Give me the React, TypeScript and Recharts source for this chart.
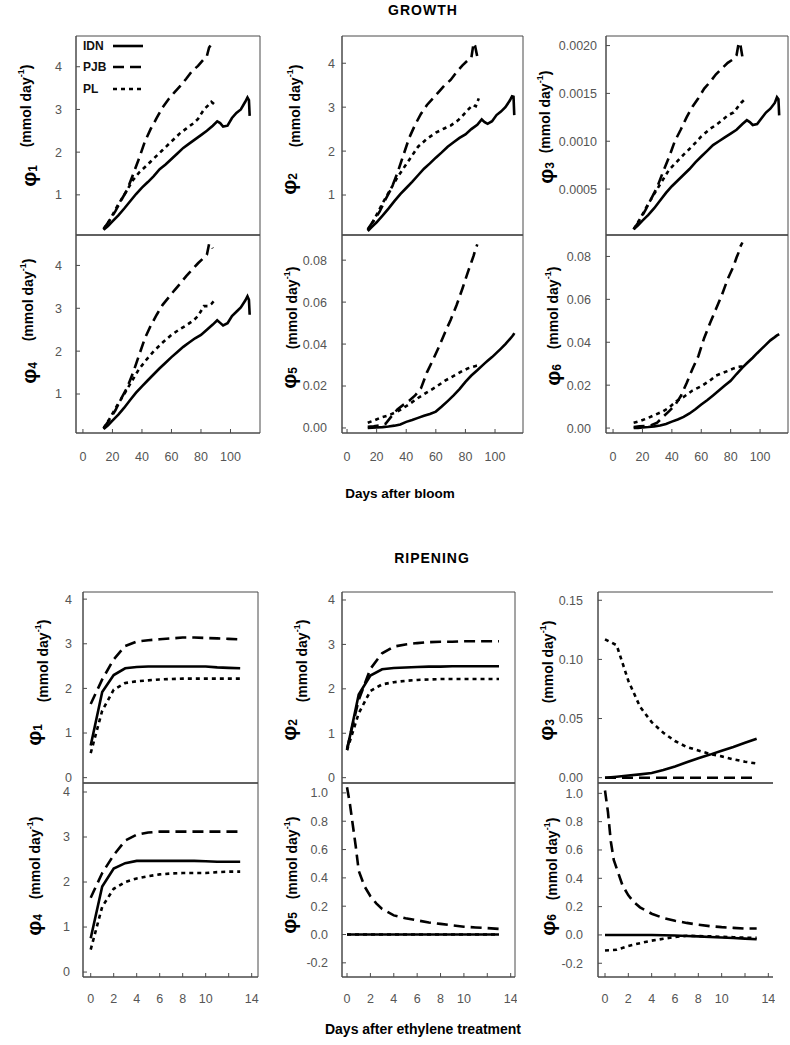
import { CartesianGrid, Legend, Line, LineChart, XAxis, YAxis } from "recharts";

const FONT = '"Liberation Sans", Arial, Helvetica, sans-serif';
const GREY = "#4a4a4a";
const TICK_GREY = "#555";

const SERIES_NAMES = ["IDN", "PJB", "PL"];

// ---- growth: days after bloom ----
const GROWTH_IDN_DAYS = [14, 17, 20, 24, 28, 32, 36, 40, 44, 48, 52, 56, 60, 64, 68, 72, 76, 80, 84, 88, 91, 93, 95, 98, 101, 104, 107, 110, 111.5, 112.5, 113];
const GROWTH_PJB_DAYS = [14, 18, 22, 26, 30, 34, 38, 42, 46, 50, 54, 58, 62, 66, 70, 74, 78, 82, 84, 85.5, 86.5, 88];
const GROWTH_PL_DAYS = [14, 18, 23, 28, 34, 38, 43, 48, 54, 60, 66, 70, 75, 78, 82, 85, 87, 89];
const GROWTH_X_TICKS = [0, 20, 40, 60, 80, 100];

const G1_IDN = [0.18, 0.27, 0.38, 0.52, 0.68, 0.85, 1.02, 1.17, 1.3, 1.44, 1.6, 1.71, 1.84, 1.97, 2.1, 2.2, 2.3, 2.4, 2.5, 2.62, 2.72, 2.68, 2.6, 2.62, 2.8, 2.92, 3.0, 3.18, 3.28, 3.22, 2.85];
const G1_PJB = [0.2, 0.4, 0.62, 0.88, 1.12, 1.48, 1.85, 2.25, 2.55, 2.8, 3.05, 3.24, 3.4, 3.55, 3.72, 3.9, 4.02, 4.18, 4.25, 4.45, 4.5, 4.38];
const G1_PL = [0.2, 0.4, 0.72, 1.0, 1.35, 1.52, 1.68, 1.85, 2.05, 2.25, 2.45, 2.55, 2.68, 2.78, 3.0, 3.1, 3.18, 3.12];

const G2_IDN = [0.18, 0.28, 0.38, 0.53, 0.69, 0.86, 1.02, 1.16, 1.3, 1.45, 1.6, 1.72, 1.85, 1.97, 2.1, 2.2, 2.3, 2.38, 2.5, 2.6, 2.72, 2.66, 2.62, 2.68, 2.82, 2.9, 3.0, 3.15, 3.25, 3.24, 2.82];
const G2_PJB = [0.22, 0.42, 0.62, 0.9, 1.15, 1.5, 1.9, 2.3, 2.6, 2.85, 3.05, 3.2, 3.35, 3.5, 3.62, 3.8, 3.95, 4.08, 4.12, 4.46, 4.4, 4.15];
const G2_PL = [0.2, 0.42, 0.75, 1.05, 1.4, 1.6, 1.85, 2.1, 2.28, 2.42, 2.52, 2.58, 2.7, 2.8, 2.95, 3.05, 3.02, 3.2];

const G3_IDN = [0.00008, 0.00012, 0.00017, 0.00023, 0.0003, 0.00038, 0.00046, 0.00053, 0.00059, 0.00065, 0.00071, 0.00078, 0.00084, 0.0009, 0.00096, 0.001, 0.00104, 0.00108, 0.00112, 0.00118, 0.00122, 0.0012, 0.00117, 0.00118, 0.00124, 0.0013, 0.00134, 0.0014, 0.00146, 0.00144, 0.00127];
const G3_PJB = [0.00008, 0.00017, 0.00028, 0.0004, 0.00052, 0.00068, 0.00083, 0.001, 0.00112, 0.00125, 0.00136, 0.00145, 0.00155, 0.00162, 0.0017, 0.00176, 0.00182, 0.00186, 0.0019, 0.00203, 0.00202, 0.00188];
const G3_PL = [0.00008, 0.00018, 0.00032, 0.00045, 0.0006, 0.0007, 0.00078, 0.00086, 0.00095, 0.00105, 0.00113, 0.00117, 0.00123, 0.00127, 0.0013, 0.00136, 0.0014, 0.00143];

const G4_IDN = [0.18, 0.27, 0.38, 0.52, 0.68, 0.86, 1.03, 1.18, 1.32, 1.46, 1.6, 1.73, 1.86, 1.98, 2.1, 2.2, 2.3, 2.38, 2.5, 2.62, 2.72, 2.66, 2.6, 2.65, 2.82, 2.92, 3.02, 3.18, 3.28, 3.2, 2.85];
const G4_PJB = [0.2, 0.4, 0.62, 0.9, 1.15, 1.5, 1.9, 2.3, 2.6, 2.85, 3.08, 3.25, 3.42, 3.58, 3.75, 3.9, 4.05, 4.18, 4.25, 4.5, 4.5, 4.4];
const G4_PL = [0.2, 0.42, 0.72, 1.0, 1.35, 1.58, 1.8, 2.0, 2.2, 2.38, 2.52, 2.6, 2.72, 2.82, 3.05, 3.05, 3.1, 3.18];

const G5_IDN = [0.0, 0.0001, 0.0002, 0.0004, 0.0007, 0.0011, 0.0017, 0.0029, 0.0038, 0.0048, 0.0058, 0.0067, 0.0078, 0.0102, 0.0128, 0.0155, 0.0185, 0.022, 0.025, 0.0275, 0.0295, 0.0308, 0.032, 0.0338, 0.0358, 0.0378, 0.04, 0.0424, 0.0436, 0.0445, 0.0452];
const G5_PJB = [0.0005, 0.0008, 0.0012, 0.002, 0.0055, 0.0088, 0.011, 0.013, 0.0155, 0.019, 0.0265, 0.0324, 0.0385, 0.0452, 0.0515, 0.0585, 0.0665, 0.075, 0.079, 0.082, 0.0845, 0.0875];
const G5_PL = [0.0025, 0.0035, 0.005, 0.006, 0.0078, 0.0095, 0.0118, 0.0143, 0.017, 0.0195, 0.0225, 0.024, 0.026, 0.0272, 0.0285, 0.0292, 0.0296, 0.03];

const G6_IDN = [0, 0.0001, 0.0003, 0.0005, 0.0008, 0.0012, 0.0019, 0.003, 0.004, 0.0052, 0.0068, 0.0088, 0.011, 0.013, 0.0152, 0.0175, 0.0198, 0.022, 0.0252, 0.0282, 0.0302, 0.0315, 0.0328, 0.0349, 0.0369, 0.0389, 0.0409, 0.0424, 0.0432, 0.0436, 0.0438];
const G6_PJB = [0.0005, 0.0008, 0.001, 0.0013, 0.0025, 0.0052, 0.0078, 0.0105, 0.0148, 0.0209, 0.0275, 0.0335, 0.042, 0.049, 0.0555, 0.062, 0.0695, 0.0755, 0.0795, 0.082, 0.0845, 0.0865];
const G6_PL = [0.0025, 0.0032, 0.0045, 0.006, 0.0078, 0.0095, 0.0125, 0.0145, 0.0175, 0.0195, 0.0222, 0.0245, 0.0258, 0.0266, 0.0278, 0.0285, 0.0287, 0.0287];

// ---- ripening: days after ethylene treatment ----
const RIPE_DAYS = [0, 1, 2, 3, 4, 5, 6, 7, 8, 9, 10, 11, 12, 13];
const RIPE_DAYS_FINE = [0, 0.25, 0.5, 0.75, 1, 1.5, 2, 2.5, 3, 4, 5, 6, 7, 8, 9, 10, 11, 12, 13];
const RIPE_X_TICKS = [0, 2, 4, 6, 8, 10, 12, 14];

const R1_IDN = [0.72, 1.92, 2.3, 2.45, 2.48, 2.49, 2.49, 2.49, 2.49, 2.49, 2.49, 2.47, 2.46, 2.45];
const R1_PJB = [1.65, 2.2, 2.65, 2.95, 3.05, 3.08, 3.1, 3.12, 3.14, 3.14, 3.13, 3.12, 3.11, 3.1];
const R1_PL = [0.55, 1.5, 1.97, 2.12, 2.16, 2.18, 2.2, 2.21, 2.22, 2.22, 2.22, 2.22, 2.22, 2.22];

const R2_IDN = [0.62, 1.87, 2.3, 2.44, 2.47, 2.48, 2.49, 2.5, 2.5, 2.51, 2.51, 2.51, 2.51, 2.51];
const R2_PJB = [0.65, 1.75, 2.45, 2.8, 2.95, 3.0, 3.03, 3.05, 3.06, 3.06, 3.07, 3.07, 3.07, 3.07];
const R2_PL = [0.62, 1.45, 1.95, 2.1, 2.15, 2.18, 2.2, 2.21, 2.22, 2.22, 2.22, 2.22, 2.22, 2.22];

const R3_IDN = [0, 0.0008, 0.0018, 0.0028, 0.004, 0.0065, 0.0095, 0.013, 0.0165, 0.0195, 0.0228, 0.026, 0.0295, 0.033];
const R3_PJB = [0, 0, 0, 0, 0, 0, 0, 0, 0, 0, 0, 0, 0, 0];
const R3_PL = [0.117, 0.112, 0.082, 0.06, 0.047, 0.038, 0.031, 0.026, 0.023, 0.02, 0.018, 0.0155, 0.0135, 0.012];

const R4_IDN = [0.75, 1.9, 2.3, 2.42, 2.47, 2.47, 2.47, 2.47, 2.47, 2.47, 2.46, 2.45, 2.45, 2.45];
const R4_PJB = [1.65, 2.2, 2.6, 2.92, 3.05, 3.1, 3.12, 3.12, 3.12, 3.12, 3.12, 3.12, 3.12, 3.12];
const R4_PL = [0.5, 1.45, 1.85, 2.0, 2.08, 2.13, 2.17, 2.19, 2.2, 2.2, 2.2, 2.22, 2.23, 2.23];

const R5_IDN = [0, 0, 0, 0, 0, 0, 0, 0, 0, 0, 0, 0, 0, 0];
const R5_PJB = [1.04, 0.92, 0.77, 0.62, 0.45, 0.34, 0.27, 0.22, 0.18, 0.135, 0.115, 0.1, 0.085, 0.075, 0.065, 0.055, 0.05, 0.045, 0.04];
const R5_PL = [0, 0, 0, 0, 0, 0, 0, 0, 0, 0, 0, 0, 0, 0];

const R6_IDN = [0, 0, 0, 0, 0, -0.002, -0.004, -0.007, -0.01, -0.014, -0.018, -0.022, -0.026, -0.03];
const R6_PJB = [1.02, 0.87, 0.66, 0.53, 0.47, 0.35, 0.28, 0.23, 0.195, 0.15, 0.12, 0.1, 0.085, 0.072, 0.062, 0.055, 0.05, 0.045, 0.045];
const R6_PL = [-0.11, -0.105, -0.078, -0.058, -0.04, -0.027, -0.015, -0.006, -0.008, -0.01, -0.013, -0.016, -0.019, -0.021];

const DASH: Record<string, string | undefined> = { IDN: undefined, PJB: "11 6", PL: "4 4" };

const Y_AXIS_W = 60;
const TOP_PAD = 2;
const RIGHT_PAD = 2;
const X_AXIS_H = 36;

type Series = { name: string; days: number[]; values: number[] };

type Panel = {
  sub: string;
  frame: [number, number, number, number];
  xDomain: [number, number];
  xTicks: number[];
  xLabels: boolean;
  xLabelGap: number;
  hideTick?: number;
  yDomain: [number, number];
  yTicks: number[];
  yDecimals: number;
  yGap: number;
  series: Series[];
  phiAt: [number, number];
  unitAt: [number, number];
  rightEdge?: boolean;
  legend?: boolean;
};

const trio = (days: number[][], vals: number[][]): Series[] =>
  SERIES_NAMES.map((name, i) => ({ name, days: days[i], values: vals[i] }));

const GD = [GROWTH_IDN_DAYS, GROWTH_PJB_DAYS, GROWTH_PL_DAYS];
const RD = [RIPE_DAYS, RIPE_DAYS, RIPE_DAYS];
const RD_FINE = [RIPE_DAYS, RIPE_DAYS_FINE, RIPE_DAYS];

const GROWTH_DEC2 = [0, 0.02, 0.04, 0.06, 0.08];
const ONE_TO_FOUR = [1, 2, 3, 4];
const ZERO_TO_FOUR = [0, 1, 2, 3, 4];
const SMALL_RANGE = [-0.2, 0, 0.2, 0.4, 0.6, 0.8, 1.0];

const PANELS: Panel[] = [
  {
    sub: "1", frame: [76, 36, 184, 199], xDomain: [-4.7, 120], xTicks: GROWTH_X_TICKS, xLabels: false, xLabelGap: 20,
    yDomain: [0.06, 4.72], yTicks: ONE_TO_FOUR, yDecimals: 0, yGap: 14,
    series: trio(GD, [G1_IDN, G1_PJB, G1_PL]), phiAt: [28, 176], unitAt: [26, 106], legend: true,
  },
  {
    sub: "2", frame: [342, 36, 181, 199], xDomain: [-3.4, 118.9], xTicks: GROWTH_X_TICKS, xLabels: false, xLabelGap: 20,
    yDomain: [0.09, 4.62], yTicks: ONE_TO_FOUR, yDecimals: 0, yGap: 7,
    series: trio(GD, [G2_IDN, G2_PJB, G2_PL]), phiAt: [288, 184], unitAt: [295, 106],
  },
  {
    sub: "3", frame: [606, 36, 182, 199], xDomain: [-4.8, 119], xTicks: GROWTH_X_TICKS, xLabels: false, xLabelGap: 20,
    yDomain: [0.00002, 0.0021], yTicks: [0.0005, 0.001, 0.0015, 0.002], yDecimals: 4, yGap: 9,
    series: trio(GD, [G3_IDN, G3_PJB, G3_PL]), phiAt: [545, 173], unitAt: [545, 112],
  },
  {
    sub: "4", frame: [76, 235, 184, 198], xDomain: [-4.7, 120], xTicks: GROWTH_X_TICKS, xLabels: true, xLabelGap: 19.6,
    yDomain: [0.09, 4.71], yTicks: ONE_TO_FOUR, yDecimals: 0, yGap: 14,
    series: trio(GD, [G4_IDN, G4_PJB, G4_PL]), phiAt: [28, 373], unitAt: [28, 300],
  },
  {
    sub: "5", frame: [342, 235, 181, 198], xDomain: [-3.4, 118.9], xTicks: GROWTH_X_TICKS, xLabels: true, xLabelGap: 19.6,
    yDomain: [-0.0024, 0.092], yTicks: GROWTH_DEC2, yDecimals: 2, yGap: 15,
    series: trio(GD, [G5_IDN, G5_PJB, G5_PL]), phiAt: [288, 378], unitAt: [292, 308],
  },
  {
    sub: "6", frame: [606, 235, 182, 198], xDomain: [-4.8, 119], xTicks: GROWTH_X_TICKS, xLabels: true, xLabelGap: 19.6,
    yDomain: [-0.0023, 0.09], yTicks: GROWTH_DEC2, yDecimals: 2, yGap: 15,
    series: trio(GD, [G6_IDN, G6_PJB, G6_PL]), phiAt: [552, 375], unitAt: [553, 308],
  },
  {
    sub: "1", frame: [83, 592, 175, 191], xDomain: [-0.67, 14.55], xTicks: RIPE_X_TICKS, xLabels: false, xLabelGap: 18, hideTick: 12,
    yDomain: [-0.12, 4.16], yTicks: ZERO_TO_FOUR, yDecimals: 0, yGap: 11,
    series: trio(RD, [R1_IDN, R1_PJB, R1_PL]), phiAt: [33, 735], unitAt: [43, 661],
  },
  {
    sub: "2", frame: [342, 592, 173, 191], xDomain: [-0.43, 14.37], xTicks: RIPE_X_TICKS, xLabels: false, xLabelGap: 18, hideTick: 12,
    yDomain: [-0.12, 4.18], yTicks: ZERO_TO_FOUR, yDecimals: 0, yGap: 7,
    series: trio(RD, [R2_IDN, R2_PJB, R2_PL]), phiAt: [288, 730], unitAt: [302, 661],
  },
  {
    sub: "3", frame: [598, 592, 175, 191], xDomain: [-0.6, 14.4], xTicks: RIPE_X_TICKS, xLabels: false, xLabelGap: 18, hideTick: 12,
    yDomain: [-0.0045, 0.157], yTicks: [0, 0.05, 0.1, 0.15], yDecimals: 2, yGap: 15,
    series: trio(RD, [R3_IDN, R3_PJB, R3_PL]), phiAt: [545, 730], unitAt: [548, 662], rightEdge: false,
  },
  {
    sub: "4", frame: [83, 783, 175, 194], xDomain: [-0.67, 14.55], xTicks: RIPE_X_TICKS, xLabels: true, xLabelGap: 17.6, hideTick: 12,
    yDomain: [-0.11, 4.2], yTicks: ZERO_TO_FOUR, yDecimals: 0, yGap: 13,
    series: trio(RD, [R4_IDN, R4_PJB, R4_PL]), phiAt: [33, 925], unitAt: [35, 858],
  },
  {
    sub: "5", frame: [342, 783, 173, 194], xDomain: [-0.43, 14.37], xTicks: RIPE_X_TICKS, xLabels: true, xLabelGap: 17.6, hideTick: 12,
    yDomain: [-0.3, 1.07], yTicks: SMALL_RANGE, yDecimals: 1, yGap: 14,
    series: trio(RD_FINE, [R5_IDN, R5_PJB, R5_PL]), phiAt: [288, 923], unitAt: [292, 858],
  },
  {
    sub: "6", frame: [598, 783, 175, 194], xDomain: [-0.6, 14.4], xTicks: RIPE_X_TICKS, xLabels: true, xLabelGap: 17.6, hideTick: 12,
    yDomain: [-0.297, 1.073], yTicks: SMALL_RANGE, yDecimals: 1, yGap: 15,
    series: trio(RD_FINE, [R6_IDN, R6_PJB, R6_PL]), phiAt: [547, 925], unitAt: [552, 859], rightEdge: false,
  },
];

const tickText = { fill: TICK_GREY, fontSize: 12.5, fontFamily: FONT };

function SeriesKey() {
  return (
    <div style={{ fontFamily: FONT, fontSize: 12, fontWeight: 700, color: "#111" }}>
      {SERIES_NAMES.map((name) => (
        <div key={name} style={{ display: "flex", alignItems: "center", height: 21.5 }}>
          <span style={{ width: 30 }}>{name}</span>
          <svg width={32} height={6}>
            <line x1={0} y1={3} x2={30} y2={3} stroke="#000" strokeWidth={2.6} strokeDasharray={DASH[name]} />
          </svg>
        </div>
      ))}
    </div>
  );
}

function PanelChart({ p }: { p: Panel }) {
  const [fx, fy, fw, fh] = p.frame;
  return (
    <div style={{ position: "absolute", left: fx - Y_AXIS_W, top: fy - TOP_PAD }}>
      <LineChart
        width={Y_AXIS_W + fw + RIGHT_PAD}
        height={TOP_PAD + fh + X_AXIS_H}
        margin={{ top: TOP_PAD, right: RIGHT_PAD, bottom: 0, left: 0 }}
      >
        <CartesianGrid
          stroke={GREY}
          horizontalCoordinatesGenerator={({ offset }: any) => [offset.top, offset.top + offset.height]}
          verticalCoordinatesGenerator={({ offset }: any) =>
            p.rightEdge === false ? [offset.left] : [offset.left, offset.left + offset.width]
          }
        />
        <XAxis
          type="number"
          dataKey="x"
          domain={p.xDomain}
          ticks={p.xTicks}
          interval={0}
          allowDataOverflow
          height={X_AXIS_H}
          stroke={GREY}
          tickSize={-4}
          tickMargin={p.xLabelGap + 4}
          tick={p.xLabels ? tickText : false}
          tickFormatter={(v: number) => (v === p.hideTick ? "" : String(v))}
        />
        <YAxis
          type="number"
          domain={p.yDomain}
          ticks={p.yTicks}
          interval={0}
          allowDataOverflow
          width={Y_AXIS_W}
          stroke={GREY}
          tickSize={-4}
          tickMargin={p.yGap + 4}
          tick={tickText}
          tickFormatter={(v: number) => v.toFixed(p.yDecimals)}
        />
        {p.legend && (
          <Legend
            layout="vertical"
            align="center"
            verticalAlign="middle"
            wrapperStyle={{ left: 67, top: 1, width: 90 }}
            content={<SeriesKey />}
          />
        )}
        {p.series.map((s) => (
          <Line
            key={s.name}
            data={s.days.map((d, i) => ({ x: d, y: s.values[i] }))}
            dataKey="y"
            name={s.name}
            type="linear"
            stroke="#000"
            strokeWidth={2.6}
            strokeDasharray={DASH[s.name]}
            dot={false}
            isAnimationActive={false}
          />
        ))}
      </LineChart>
    </div>
  );
}

function AxisName({ p }: { p: Panel }) {
  const [px, py] = p.phiAt;
  const [ux, uy] = p.unitAt;
  return (
    <g fontFamily={FONT} fontWeight={700} fill="#000">
      <text x={px} y={py} transform={`rotate(-90 ${px} ${py})`} textAnchor="middle" dominantBaseline="central" fontSize={21}>
        φ<tspan fontSize={12} dy={5}>{p.sub}</tspan>
      </text>
      <text x={ux} y={uy} transform={`rotate(-90 ${ux} ${uy})`} textAnchor="middle" dominantBaseline="central" fontSize={14}>
        (mmol day<tspan fontSize={9} dy={-5}>-1</tspan><tspan dy={5}>)</tspan>
      </text>
    </g>
  );
}

export default function App() {
  return (
    <div style={{ position: "absolute", left: 0, top: 0, width: 790, height: 1045, background: "#fff" }}>
      {PANELS.map((p, i) => (
        <PanelChart key={i} p={p} />
      ))}
      <svg width={790} height={1045} style={{ position: "absolute", left: 0, top: 0, pointerEvents: "none" }}>
        {PANELS.map((p, i) => (
          <AxisName key={i} p={p} />
        ))}
        <g fontFamily={FONT} fontWeight={700} fill="#000" textAnchor="middle">
          <text x={423} y={15} fontSize={14} letterSpacing={1}>GROWTH</text>
          <text x={400} y={498} fontSize={13.5}>Days after bloom</text>
          <text x={432} y={563} fontSize={14} letterSpacing={1}>RIPENING</text>
          <text x={423} y={1034} fontSize={14}>Days after ethylene treatment</text>
        </g>
      </svg>
    </div>
  );
}
